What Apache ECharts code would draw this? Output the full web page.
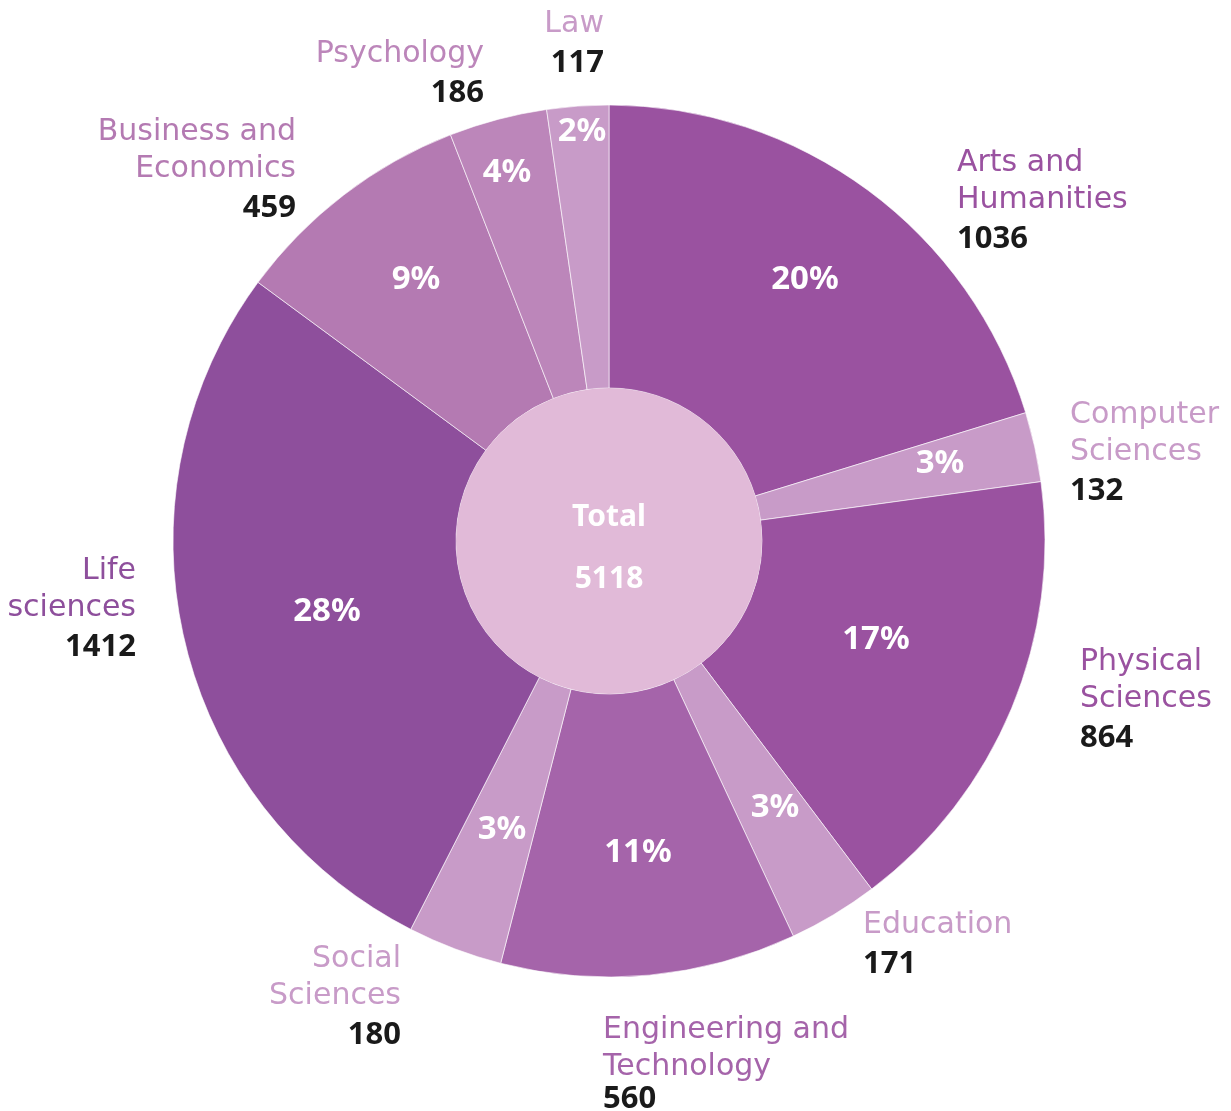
<!DOCTYPE html>
<html>
<head>
<meta charset="utf-8">
<script src="https://cdn.jsdelivr.net/npm/echarts@6/dist/echarts.min.js"></script>
<style>
  html, body { margin: 0; padding: 0; background: #fff; }
  #chart { width: 1231px; height: 1111px; }
</style>
</head>
<body>
<div id="chart"></div>
<script>
// 环形图 - fields of study
const categories = ['Arts and\nHumanities', 'Computer\nSciences', 'Physical\nSciences', 'Education',
  'Engineering and\nTechnology', 'Social\nSciences', 'Life\nsciences', 'Business and\nEconomics', 'Psychology', 'Law']
const values = [1036, 132, 864, 171, 560, 180, 1412, 459, 186, 117]
const totalLabel = 'Total'
const totalValue = '5118'

// 样式
const colors = ['#9a52a0', '#c89bc8', '#9a52a0', '#c89bc8', '#a564aa', '#c89bc8', '#8e4f9c', '#b47ab2', '#bc86ba', '#c89bc8']
// 外部标签位置 [x, y, align, 数值行高]
const outerLabelPos = [
  [957, 145, 'left', 41], [1070, 397, 'left', 41], [1080, 644, 'left', 41], [863, 907, 'left', 41], [603, 1012, 'left', 27],
  [401, 941, 'right', 41], [136, 553, 'right', 41], [296, 114, 'right', 41], [484, 36, 'right', 41], [604, 6, 'right', 41],
]
// 百分比标签中心
const pctLabelPos = [
  [805, 280], [940, 464], [876, 640], [775, 808], [638, 853],
  [502, 830], [327, 612], [416, 280], [507, 173], [582, 132],
]

const chart = echarts.init(document.getElementById('chart'))

const option = {
  animation: false,
  series: [
    {
      // 百分比
      type: 'pie',
      center: [609, 541],
      radius: [153, 436],
      startAngle: 90,
      clockwise: true,
      percentPrecision: 0,
      itemStyle: { borderColor: 'rgba(255,255,255,0.6)', borderWidth: 1 },
      label: {
        show: true,
        position: 'inside',
        formatter: '{d}%',
        color: '#fff',
        fontFamily: 'Noto Sans',
        fontWeight: 'bold',
        fontSize: 33,
      },
      labelLine: { show: false },
      labelLayout: function (params) {
        const p = pctLabelPos[params.dataIndex]
        return { x: p[0], y: p[1], align: 'center', verticalAlign: 'middle' }
      },
      data: values.map(function (v, i) {
        return { name: categories[i], value: v, itemStyle: { color: colors[i] } }
      }),
    },
    {
      // 外部名称 + 数值
      type: 'pie',
      center: [609, 541],
      radius: [153, 436],
      startAngle: 90,
      silent: true,
      itemStyle: { color: 'transparent' },
      label: {
        show: true,
        position: 'outside',
        overflow: 'none',
        edgeDistance: 0,
        formatter: function (params) {
          return '{n|' + params.name.split('\n').join('}\n{n|') + '}\n{v|' + params.value + '}'
        },
        rich: {
          n: { fontFamily: 'DejaVu Sans', fontSize: 30, lineHeight: 37 },
          v: { fontFamily: 'Noto Sans', fontWeight: 'bold', fontSize: 31, lineHeight: 41, color: '#1a1a1a' },
        },
      },
      labelLine: { show: false },
      labelLayout: function (params) {
        const p = outerLabelPos[params.dataIndex]
        return { x: p[0], y: p[1], align: p[2], verticalAlign: 'top' }
      },
      data: values.map(function (v, i) {
        return {
          name: categories[i], value: v,
          label: { rich: { n: { color: colors[i] }, v: { lineHeight: outerLabelPos[i][3] } } },
        }
      }),
    },
    {
      // 中心圆
      type: 'pie',
      center: [609, 541],
      radius: [0, 153],
      silent: true,
      itemStyle: { color: '#e1bad8' },
      label: {
        show: true,
        position: 'center',
        padding: [14, 0, 0, 0],
        formatter: '{t|' + totalLabel + '}\n{t|' + totalValue + '}',
        rich: {
          t: { fontFamily: 'Noto Sans', fontWeight: 'bold', fontSize: 30, lineHeight: 62, color: '#fff' },
        },
      },
      labelLine: { show: false },
      data: [{ name: totalLabel, value: 1 }],
    },
  ],
}

option && chart.setOption(option)
</script>
</body>
</html>
